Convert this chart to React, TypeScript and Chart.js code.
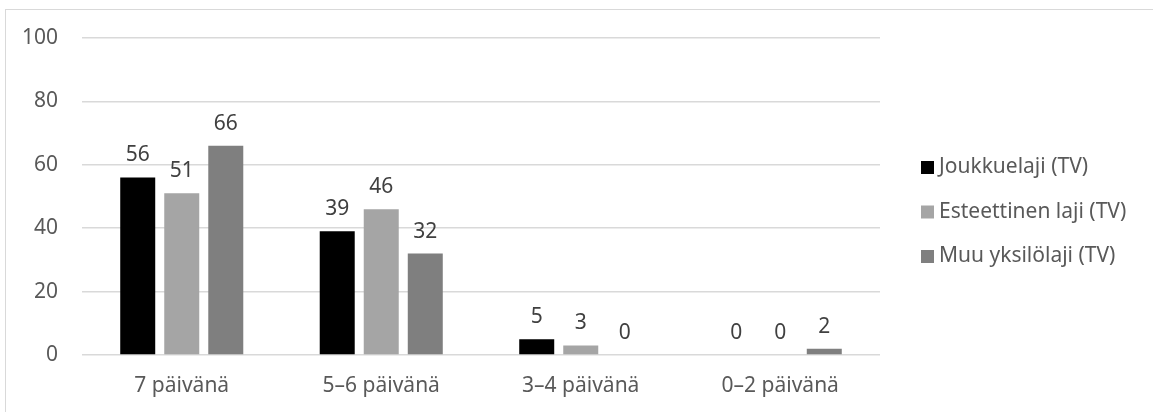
import React, { useEffect, useRef } from "react";
import { Chart, registerables } from "chart.js";

Chart.register(...registerables);

const categories = ["7 päivänä", "5–6 päivänä", "3–4 päivänä", "0–2 päivänä"];
const seriesNames = ["Joukkuelaji (TV)", "Esteettinen laji (TV)", "Muu yksilölaji (TV)"];
const joukkuelaji = [56, 39, 5, 0];
const esteettinen = [51, 46, 3, 0];
const muuYksilo = [66, 32, 0, 2];
const seriesColors = ["#000000", "#a5a5a5", "#7f7f7f"];
const yTicks = [0, 20, 40, 60, 80, 100];

const FONT = "'Noto Sans', sans-serif";

const valueLabels = {
  id: "valueLabels",
  afterDatasetsDraw(chart: any) {
    const ctx = chart.ctx;
    ctx.save();
    ctx.font = `21px ${FONT}`;
    ctx.fillStyle = "#404040";
    ctx.textAlign = "center";
    ctx.textBaseline = "middle";
    chart.data.datasets.forEach((ds: any, i: number) => {
      const meta = chart.getDatasetMeta(i);
      meta.data.forEach((el: any, j: number) => {
        ctx.fillText(String(ds.data[j]), el.x, el.y - 22);
      });
    });
    ctx.restore();
  },
};

const sideLegend = {
  id: "sideLegend",
  afterDraw(chart: any) {
    const ctx = chart.ctx;
    ctx.save();
    ctx.font = `21px ${FONT}`;
    ctx.textAlign = "left";
    ctx.textBaseline = "middle";
    const x0 = chart.chartArea.right + 41;
    const yc = 212;
    const step = 44.5;
    chart.data.datasets.forEach((ds: any, i: number) => {
      const y = yc + (i - 1) * step;
      ctx.fillStyle = ds.backgroundColor;
      ctx.fillRect(x0, y - 6.5, 13, 13);
      ctx.fillStyle = "#595959";
      ctx.fillText(ds.label, x0 + 18, y);
    });
    ctx.restore();
  },
};

export default function App() {
  const ref = useRef<HTMLCanvasElement>(null);
  useEffect(() => {
    if (!ref.current) return;
    const chart = new Chart(ref.current, {
      type: "bar",
      data: {
        labels: categories,
        datasets: [joukkuelaji, esteettinen, muuYksilo].map((d, i) => ({
          label: seriesNames[i],
          data: d,
          backgroundColor: seriesColors[i],
          borderWidth: 0,
          categoryPercentage: 0.662,
          barPercentage: 0.795,
        })),
      },
      options: {
        responsive: false,
        animation: false,
        devicePixelRatio: 1,
        layout: { padding: { left: 0, top: 38, right: 273, bottom: 0 } },
        plugins: { legend: { display: false }, tooltip: { enabled: false } },
        scales: {
          x: {
            grid: { display: false, drawTicks: false },
            border: { display: false },
            ticks: { color: "#595959", font: { family: FONT, size: 21 }, padding: 18 },
            afterFit: (s: any) => { s.height = 57; },
          },
          y: {
            min: 0,
            max: 100,
            afterBuildTicks: (s: any) => { s.ticks = yTicks.map((v) => ({ value: v })); },
            grid: { color: "#d9d9d9", lineWidth: 1.5, drawTicks: false },
            border: { display: false },
            ticks: { color: "#595959", font: { family: FONT, size: 21 }, padding: 24 },
            afterFit: (s: any) => { s.width = 82; },
          },
        },
      },
      plugins: [valueLabels, sideLegend],
    });
    return () => chart.destroy();
  }, []);

  return (
    <div style={{ position: "fixed", left: 0, top: 0, width: 1153, height: 412, overflow: "hidden", background: "#fff" }}>
      <div style={{ position: "absolute", left: 5, top: 9, width: 1200, height: 450, border: "1px solid #d9d9d9" }} />
      <canvas ref={ref} width={1153} height={412} style={{ position: "absolute", left: 0, top: 0 }} />
    </div>
  );
}
